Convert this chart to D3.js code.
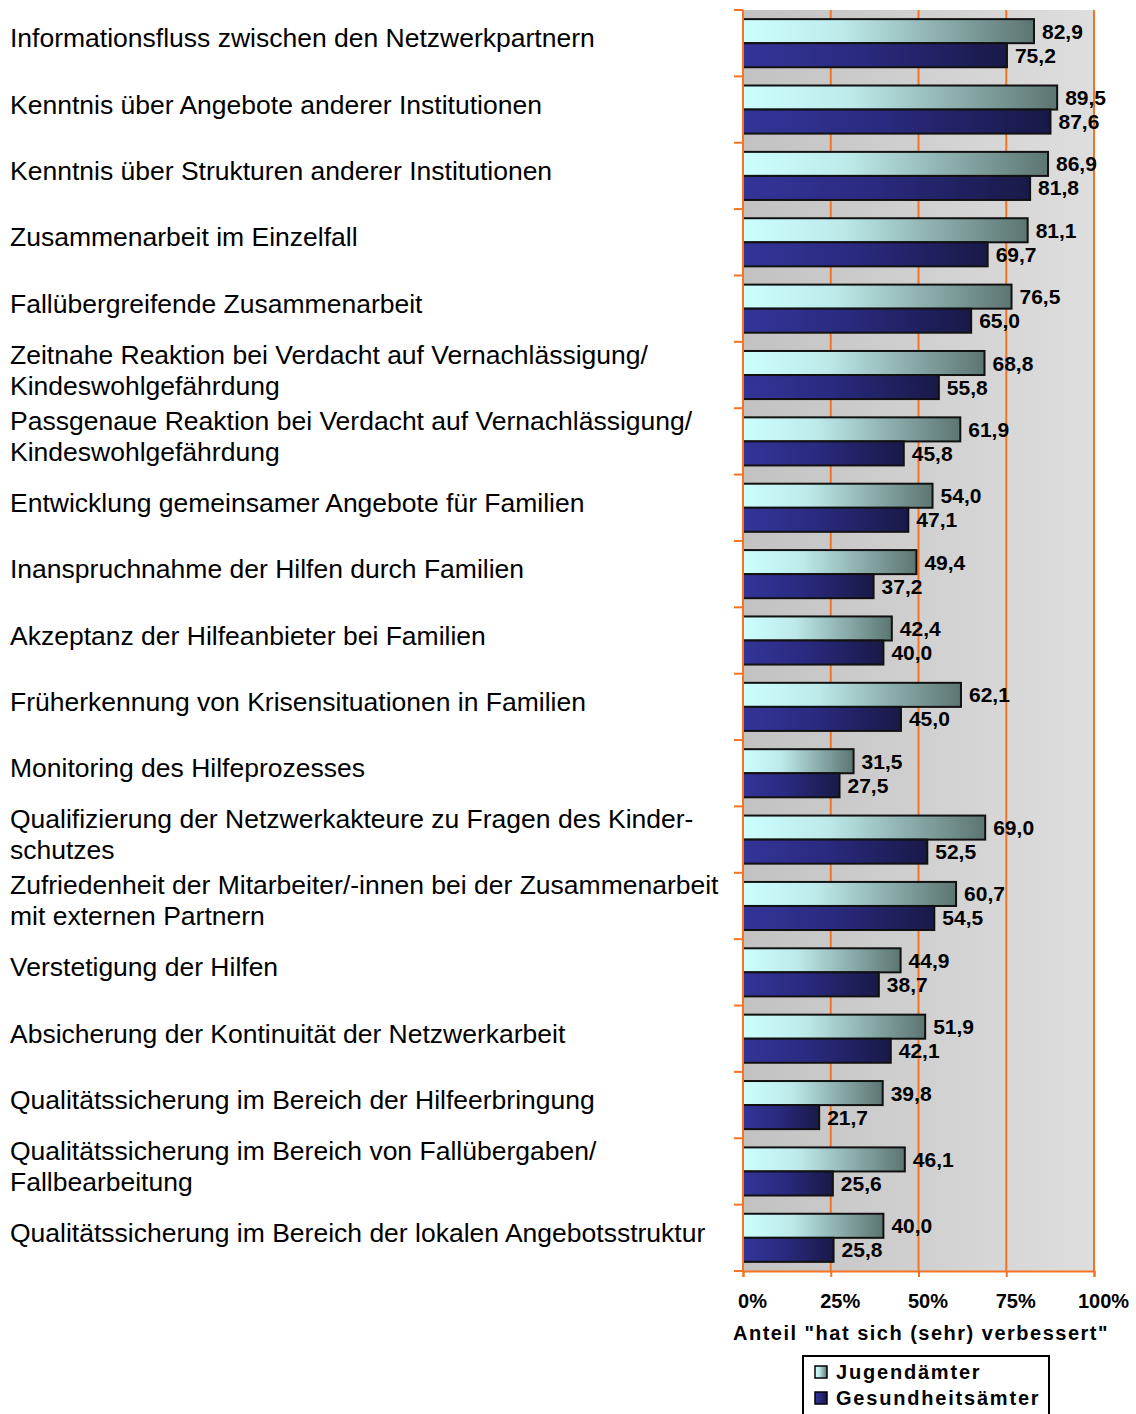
<!DOCTYPE html>
<html>
<head>
<meta charset="utf-8">
<script src="https://cdn.jsdelivr.net/npm/d3@7"></script>
<style>
  body { margin: 0; background: #fff; }
  svg { display: block; font-family: "Liberation Sans", Arial, sans-serif; }
</style>
</head>
<body>
<svg id="chart"></svg>
<script>
// categories, each entry is a list of text lines
const categories = [
    ["Informationsfluss zwischen den Netzwerkpartnern"],
    ["Kenntnis über Angebote anderer Institutionen"],
    ["Kenntnis über Strukturen anderer Institutionen"],
    ["Zusammenarbeit im Einzelfall"],
    ["Fallübergreifende Zusammenarbeit"],
    ["Zeitnahe Reaktion bei Verdacht auf Vernachlässigung/", "Kindeswohlgefährdung"],
    ["Passgenaue Reaktion bei Verdacht auf Vernachlässigung/", "Kindeswohlgefährdung"],
    ["Entwicklung gemeinsamer Angebote für Familien"],
    ["Inanspruchnahme der Hilfen durch Familien"],
    ["Akzeptanz der Hilfeanbieter bei Familien"],
    ["Früherkennung von Krisensituationen in Familien"],
    ["Monitoring des Hilfeprozesses"],
    ["Qualifizierung der Netzwerkakteure zu Fragen des Kinder-", "schutzes"],
    ["Zufriedenheit der Mitarbeiter/-innen bei der Zusammenarbeit", "mit externen Partnern"],
    ["Verstetigung der Hilfen"],
    ["Absicherung der Kontinuität der Netzwerkarbeit"],
    ["Qualitätssicherung im Bereich der Hilfeerbringung"],
    ["Qualitätssicherung im Bereich von Fallübergaben/", "Fallbearbeitung"],
    ["Qualitätssicherung im Bereich der lokalen Angebotsstruktur"]
];

const jugendaemter = [82.9, 89.5, 86.9, 81.1, 76.5, 68.8, 61.9, 54.0, 49.4, 42.4,
                      62.1, 31.5, 69.0, 60.7, 44.9, 51.9, 39.8, 46.1, 40.0];
const gesundheitsaemter = [75.2, 87.6, 81.8, 69.7, 65.0, 55.8, 45.8, 47.1, 37.2, 40.0,
                           45.0, 27.5, 52.5, 54.5, 38.7, 42.1, 21.7, 25.6, 25.8];

const seriesNames = ["Jugendämter", "Gesundheitsämter"];
const xTicks = [0, 25, 50, 75, 100];
const xTickLabels = ["0%", "25%", "50%", "75%", "100%"];
const axisTitle = 'Anteil "hat sich (sehr) verbessert"';

const width = 1136, height = 1414;
const orange = "#f77321";

const svg = d3.select("#chart")
    .attr("width", width)
    .attr("height", height);

const plot = { left: 743, right: 1094, top: 10, bottom: 1271 };

const x = d3.scaleLinear().domain([0, 100]).range([plot.left, plot.right]);
const y = d3.scaleBand()
    .domain(d3.range(categories.length))
    .range([plot.top, plot.bottom]);
const ySub = d3.scaleBand()
    .domain([0, 1])
    .range([0, y.bandwidth()])
    .paddingOuter(0.38);

// gradients
const defs = svg.append("defs");
function hGradient(id, stops) {
    const g = defs.append("linearGradient").attr("id", id)
        .attr("x1", "0%").attr("x2", "100%").attr("y1", "0%").attr("y2", "0%");
    stops.forEach(s => g.append("stop").attr("offset", s[0]).attr("stop-color", s[1]));
}
hGradient("bg", [["0%", "#c2c2c2"], ["100%", "#dedede"]]);
hGradient("g0", [["0%", "#ccffff"], ["35%", "#bde9e9"], ["100%", "#5c7572"]]);
hGradient("g1", [["0%", "#343499"], ["45%", "#2a2a80"], ["100%", "#191948"]]);

// plot background
svg.append("rect")
    .attr("x", plot.left).attr("y", plot.top)
    .attr("width", plot.right - plot.left)
    .attr("height", plot.bottom - plot.top)
    .attr("fill", "url(#bg)");

// vertical grid lines
svg.append("g")
    .selectAll("line")
    .data(xTicks.slice(1))
    .enter().append("line")
    .attr("x1", d => x(d)).attr("x2", d => x(d))
    .attr("y1", plot.top).attr("y2", plot.bottom)
    .attr("stroke", orange)
    .attr("stroke-width", 2);

// bars
const series = [jugendaemter, gesundheitsaemter];
const fmt = v => d3.format(".1f")(v).replace(".", ",");

series.forEach((vals, s) => {
    const g = svg.append("g");
    g.selectAll("rect")
        .data(vals)
        .enter().append("rect")
        .attr("x", x(0))
        .attr("y", (d, i) => y(i) + ySub(s))
        .attr("width", d => x(d) - x(0))
        .attr("height", ySub.bandwidth())
        .attr("fill", "url(#g" + s + ")")
        .attr("stroke", "#111")
        .attr("stroke-width", 2);

    g.selectAll("text")
        .data(vals)
        .enter().append("text")
        .attr("x", d => x(d) + 8)
        .attr("y", (d, i) => y(i) + ySub(s) + ySub.bandwidth() / 2)
        .attr("dominant-baseline", "central")
        .attr("font-size", "21px")
        .attr("font-weight", "bold")
        .attr("fill", "#000")
        .text(d => fmt(d));
});

// left axis with ticks at category boundaries
const yAxis = svg.append("g");
yAxis.append("line")
    .attr("x1", plot.left).attr("x2", plot.left)
    .attr("y1", plot.top).attr("y2", plot.bottom)
    .attr("stroke", orange).attr("stroke-width", 2);
yAxis.selectAll("line.tick")
    .data(d3.range(categories.length + 1))
    .enter().append("line")
    .attr("class", "tick")
    .attr("x1", plot.left - 9).attr("x2", plot.left)
    .attr("y1", d => d < categories.length ? y(d) : plot.bottom)
    .attr("y2", d => d < categories.length ? y(d) : plot.bottom)
    .attr("stroke", orange).attr("stroke-width", 2);

// bottom axis
const xAxis = svg.append("g")
    .attr("transform", `translate(0,${plot.bottom})`)
    .call(d3.axisBottom(x).tickValues(xTicks).tickSize(6).tickFormat((d, i) => xTickLabels[i]));
xAxis.select(".domain").attr("stroke", orange).attr("stroke-width", 2);
xAxis.selectAll(".tick line").attr("stroke", orange).attr("stroke-width", 2);
xAxis.selectAll(".tick text")
    .attr("font-family", "Liberation Sans, Arial, sans-serif")
    .attr("font-size", "20px")
    .attr("font-weight", "bold")
    .attr("fill", "#000")
    .attr("dx", 9)
    .attr("y", 0)
    .attr("dy", 0)
    .attr("transform", "translate(0,37)");

svg.append("text")
    .attr("x", 921)
    .attr("y", 1340)
    .attr("text-anchor", "middle")
    .attr("font-size", "20px")
    .attr("font-weight", "bold")
    .attr("letter-spacing", "1.5px")
    .text(axisTitle);

// category labels
const labels = svg.append("g")
    .selectAll("text")
    .data(categories)
    .enter().append("text")
    .attr("x", 10)
    .attr("font-size", "26.5px")
    .attr("fill", "#000")
    .attr("y", (d, i) => y(i) + y.bandwidth() / 2 - 5 - (d.length - 1) * 15.5)
    .attr("dominant-baseline", "central");
labels.selectAll("tspan")
    .data(d => d)
    .enter().append("tspan")
    .attr("x", 10)
    .attr("dy", (d, j) => j === 0 ? 0 : 31)
    .text(d => d);

// legend
const legend = svg.append("g");
legend.append("rect")
    .attr("x", 803).attr("y", 1356)
    .attr("width", 246).attr("height", 70)
    .attr("fill", "#fff")
    .attr("stroke", "#000")
    .attr("stroke-width", 2);
seriesNames.forEach((name, s) => {
    legend.append("rect")
        .attr("x", 815).attr("y", 1366 + s * 26)
        .attr("width", 12).attr("height", 12)
        .attr("fill", "url(#g" + s + ")")
        .attr("stroke", "#000")
        .attr("stroke-width", 1.5);
    legend.append("text")
        .attr("x", 836).attr("y", 1379 + s * 26)
        .attr("font-size", "20px")
        .attr("font-weight", "bold")
        .attr("letter-spacing", "1.8px")
        .text(name);
});
</script>
</body>
</html>
